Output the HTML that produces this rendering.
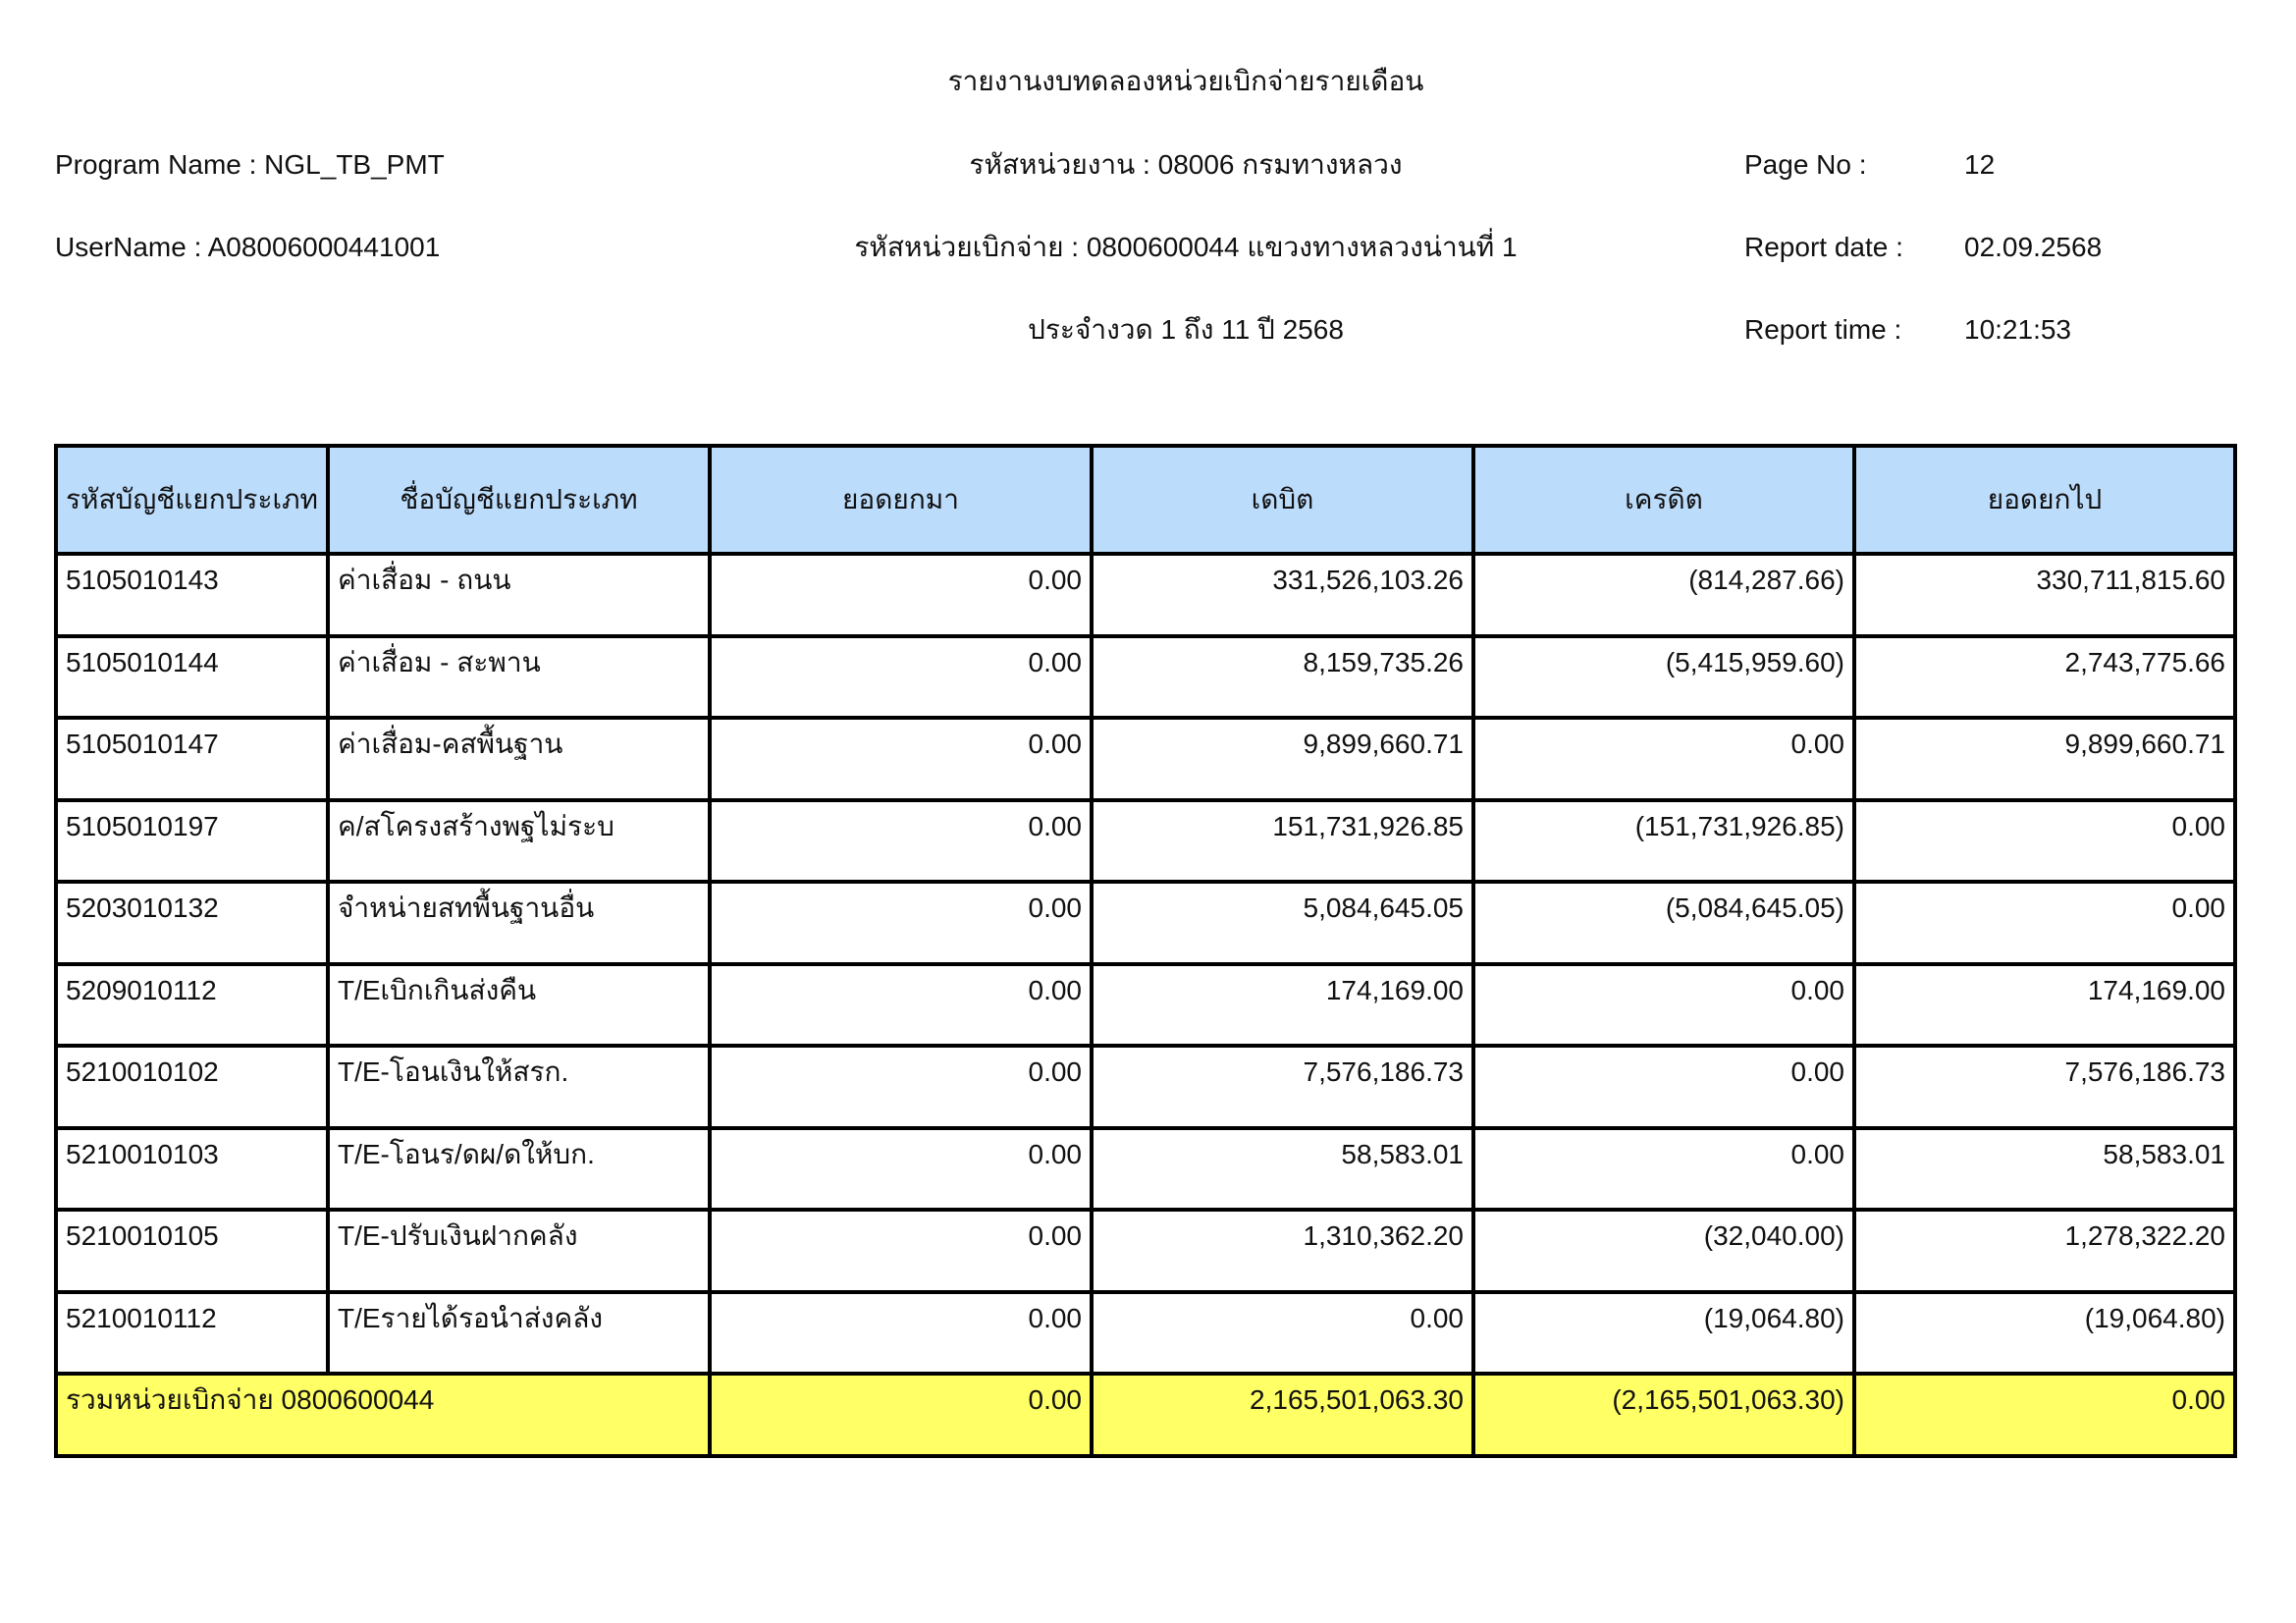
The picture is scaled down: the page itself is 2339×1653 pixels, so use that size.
<!DOCTYPE html>
<html><head><meta charset="utf-8"><style>
body{margin:0;width:2339px;height:1653px;background:#fff;font-family:"Liberation Sans","DejaVu Sans",sans-serif;color:#111;position:relative;overflow:hidden}
.t{position:absolute;font-size:28px;line-height:34px;white-space:nowrap}
.c{transform:translateX(-50%)}
table{position:absolute;left:55px;top:452px;border-collapse:collapse;table-layout:fixed}
td,th{border:4px solid #000;font-size:28px;font-weight:normal;padding:0 8px;white-space:nowrap;overflow:hidden}
th{background:#bcdcfb;height:106px;text-align:center}
td{height:83.5px;vertical-align:top;padding-top:10px;line-height:30px;box-sizing:border-box}
td.n{text-align:right}
tr.tot td{background:#ffff66}
</style></head><body>
<div class="t c" style="left:1208px;top:66px">รายงานงบทดลองหน่วยเบิกจ่ายรายเดือน</div>
<div class="t" style="left:56px;top:151px">Program Name : NGL_TB_PMT</div>
<div class="t c" style="left:1208px;top:151px">รหัสหน่วยงาน : 08006 กรมทางหลวง</div>
<div class="t" style="left:1777px;top:151px">Page No :</div>
<div class="t" style="left:2001px;top:151px">12</div>
<div class="t" style="left:56px;top:235px">UserName : A08006000441001</div>
<div class="t c" style="left:1208px;top:235px">รหัสหน่วยเบิกจ่าย : 0800600044 แขวงทางหลวงน่านที่ 1</div>
<div class="t" style="left:1777px;top:235px">Report date :</div>
<div class="t" style="left:2001px;top:235px">02.09.2568</div>
<div class="t c" style="left:1208px;top:319px">ประจำงวด 1 ถึง 11 ปี 2568</div>
<div class="t" style="left:1777px;top:319px">Report time :</div>
<div class="t" style="left:2001px;top:319px">10:21:53</div>
<table>
<colgroup><col style="width:277px"><col style="width:389px"><col style="width:389px"><col style="width:389px"><col style="width:388px"><col style="width:388px"></colgroup>
<tr><th>รหัสบัญชีแยกประเภท</th><th>ชื่อบัญชีแยกประเภท</th><th>ยอดยกมา</th><th>เดบิต</th><th>เครดิต</th><th>ยอดยกไป</th></tr>
<tr><td>5105010143</td><td>ค่าเสื่อม - ถนน</td><td class="n">0.00</td><td class="n">331,526,103.26</td><td class="n">(814,287.66)</td><td class="n">330,711,815.60</td></tr>
<tr><td>5105010144</td><td>ค่าเสื่อม - สะพาน</td><td class="n">0.00</td><td class="n">8,159,735.26</td><td class="n">(5,415,959.60)</td><td class="n">2,743,775.66</td></tr>
<tr><td>5105010147</td><td>ค่าเสื่อม-คสพื้นฐาน</td><td class="n">0.00</td><td class="n">9,899,660.71</td><td class="n">0.00</td><td class="n">9,899,660.71</td></tr>
<tr><td>5105010197</td><td>ค/สโครงสร้างพฐไม่ระบ</td><td class="n">0.00</td><td class="n">151,731,926.85</td><td class="n">(151,731,926.85)</td><td class="n">0.00</td></tr>
<tr><td>5203010132</td><td>จำหน่ายสทพื้นฐานอื่น</td><td class="n">0.00</td><td class="n">5,084,645.05</td><td class="n">(5,084,645.05)</td><td class="n">0.00</td></tr>
<tr><td>5209010112</td><td>T/Eเบิกเกินส่งคืน</td><td class="n">0.00</td><td class="n">174,169.00</td><td class="n">0.00</td><td class="n">174,169.00</td></tr>
<tr><td>5210010102</td><td>T/E-โอนเงินให้สรก.</td><td class="n">0.00</td><td class="n">7,576,186.73</td><td class="n">0.00</td><td class="n">7,576,186.73</td></tr>
<tr><td>5210010103</td><td>T/E-โอนร/ดผ/ดให้บก.</td><td class="n">0.00</td><td class="n">58,583.01</td><td class="n">0.00</td><td class="n">58,583.01</td></tr>
<tr><td>5210010105</td><td>T/E-ปรับเงินฝากคลัง</td><td class="n">0.00</td><td class="n">1,310,362.20</td><td class="n">(32,040.00)</td><td class="n">1,278,322.20</td></tr>
<tr><td>5210010112</td><td>T/Eรายได้รอนำส่งคลัง</td><td class="n">0.00</td><td class="n">0.00</td><td class="n">(19,064.80)</td><td class="n">(19,064.80)</td></tr>
<tr class="tot"><td colspan="2">รวมหน่วยเบิกจ่าย 0800600044</td><td class="n">0.00</td><td class="n">2,165,501,063.30</td><td class="n">(2,165,501,063.30)</td><td class="n">0.00</td></tr>
</table>
</body></html>
